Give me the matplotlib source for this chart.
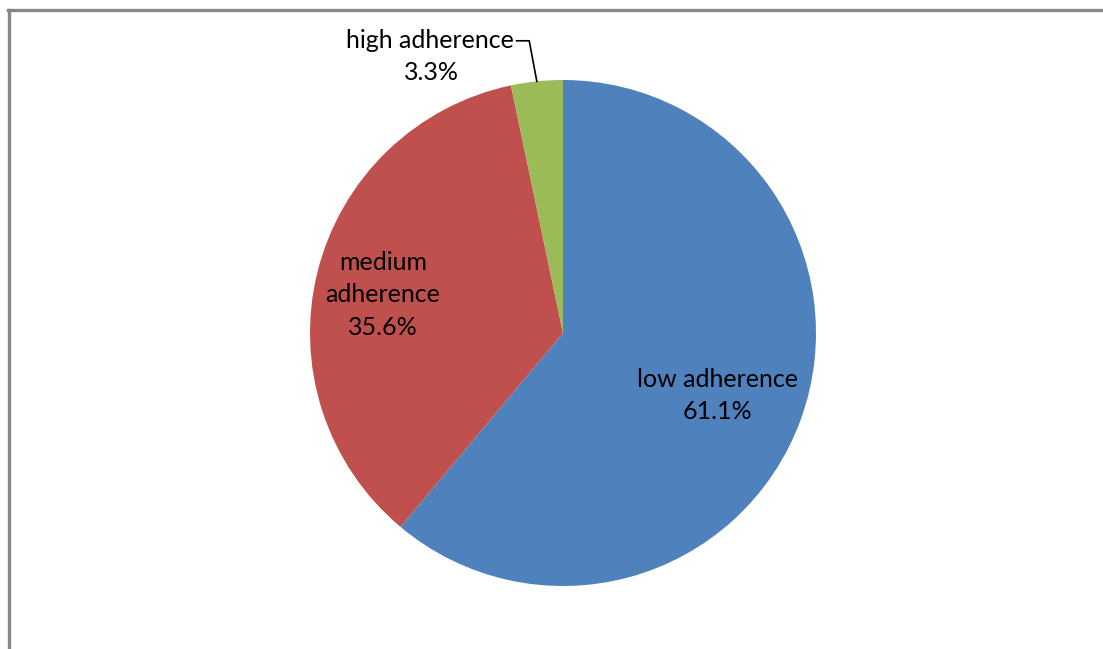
import numpy as np
import matplotlib.pyplot as plt

# adherence groups, clockwise from 12 o'clock
labels = ['low adherence', 'medium\nadherence', 'high adherence']
shares = [61.1, 35.6, 3.3]
colors = ['#4F81BD', '#C0504D', '#9BBB59']

plt.rcParams['font.family'] = ['Lato', 'DejaVu Sans']

W, H = 1103, 649
fig = plt.figure(figsize=(W / 100, H / 100), dpi=100)

# chart area outline (top and left edges visible)
fig.add_artist(plt.Line2D([9 / W, 9 / W], [0, 1 - 9.5 / H], transform=fig.transFigure,
                          color='#878787', lw=2.4))
fig.add_artist(plt.Line2D([8 / W, 1], [1 - 9.5 / H, 1 - 9.5 / H], transform=fig.transFigure,
                          color='#878787', lw=2.4))

cx, cy, r = 563, H - 333, 253
ax = fig.add_axes([(cx - r) / W, (cy - r) / H, 2 * r / W, 2 * r / H])
wedges, _ = ax.pie(shares, colors=colors, startangle=90, counterclock=False,
                   radius=1, wedgeprops=dict(linewidth=0))
ax.set_xlim(-1, 1)
ax.set_ylim(-1, 1)
ax.set_aspect('equal')
ax.axis('off')

fs = 18
dist = [0.66, 0.727]
nudge = [-2, 2]  # degrees
for i in range(2):
    w = wedges[i]
    mid = np.deg2rad((w.theta1 + w.theta2) / 2 + nudge[i])
    ax.text(dist[i] * np.cos(mid), dist[i] * np.sin(mid),
            f'{labels[i]}\n{shares[i]:.1f}%', ha='center', va='center',
            fontsize=fs, linespacing=1.5)

# outside label with leader line for the small slice
w = wedges[2]
mid = np.deg2rad((w.theta1 + w.theta2) / 2)
ax0, ay0 = np.cos(mid), np.sin(mid)
ex, ey = ax0 - 0.03, 1.155
tx = ex - 0.05
ax.plot([ax0, ex, tx], [ay0, ey, ey], color='black', lw=1.2, clip_on=False)
ax.text(tx - 0.01, ey, labels[2], ha='right', va='center', fontsize=fs)
ax.text(-0.52, ey - 0.127, f'{shares[2]:.1f}%', ha='center', va='center', fontsize=fs)

fig.savefig('out.png', dpi=100, facecolor='white')
